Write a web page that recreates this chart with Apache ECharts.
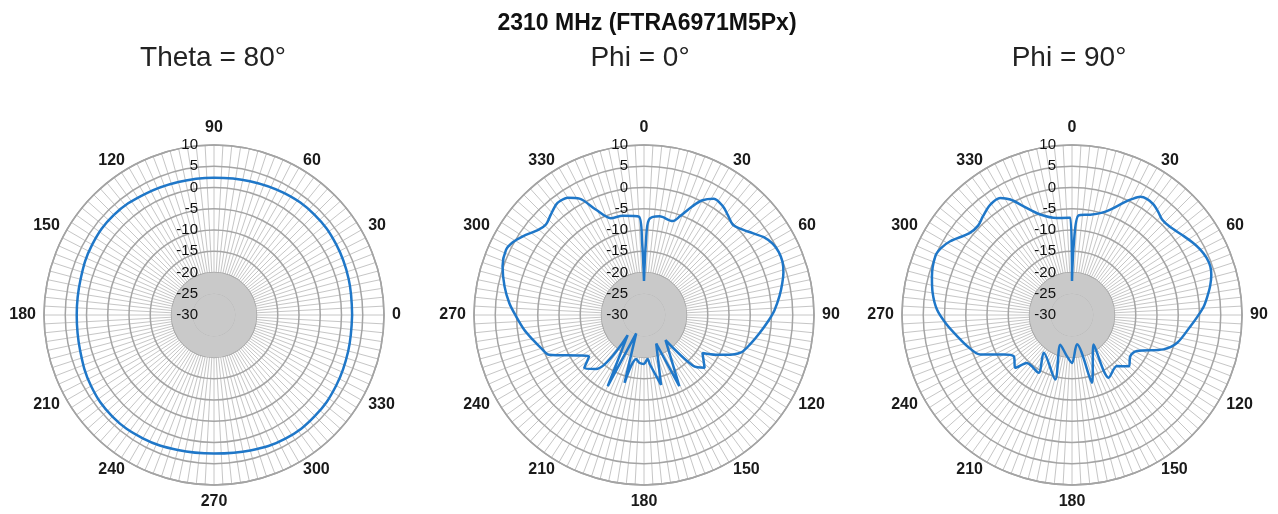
<!DOCTYPE html>
<html>
<head>
<meta charset="utf-8">
<script src="https://cdn.jsdelivr.net/npm/echarts@6/dist/echarts.min.js"></script>
<style>
html, body { margin: 0; padding: 0; background: #fff; }
#chart { width: 1278px; height: 514px; }
</style>
</head>
<body>
<div id="chart"></div>
<script>
// tick labels
var gainTicks = [-30, -25, -20, -15, -10, -5, 0, 5, 10];
var angleTicks = [0, 30, 60, 90, 120, 150, 180, 210, 240, 270, 300, 330, 360];

// Theta = 80 (0 deg on the right, counter clockwise)
var theta80Angles = [0, 15, 30, 45, 60, 75, 90, 105, 120, 135, 150, 165, 180, 195, 210, 225, 240, 255, 270, 285, 300, 315, 330, 345, 360];
var theta80Gain = [2.5, 2.8, 3.2, 3.4, 3.1, 2.6, 2.3, 2.4, 2.8, 3.3, 3.1, 2.5, 2.3, 2.6, 3.4, 3.8, 3.5, 2.9, 2.6, 3.0, 3.6, 3.6, 3.2, 2.7, 2.5];

// Phi = 0 (0 deg on top, clockwise), points in drawing order
var phi0Angles = [0, 1.5, 3, 9, 17, 20, 24, 27, 31, 36, 40, 44.5, 48, 53, 57, 61, 65, 69, 73, 77, 82, 88, 93, 99, 105, 111, 116, 119, 123, 131, 136, 139.5, 153.6, 156.8, 166.3, 173, 175.5, 180, 185.6, 190, 196, 203, 207, 219, 221.6, 228.4, 233, 238, 247.3, 252, 257.5, 263, 269.4, 275, 281.6, 289, 295.3, 299, 303, 309, 312.7, 317, 321.4, 324, 327, 331, 335.5, 341, 348, 357, 358.5, 360];
var phi0Gain = [-22, -13, -7.5, -6.5, -6.9, -5.3, -2.0, 0.3, 1.9, 1.6, 0.7, -0.2, 0.4, 2.0, 3.6, 4.6, 5.0, 4.9, 4.3, 3.4, 2.2, 0.7, -0.8, -2.5, -4.0, -5.5, -8.6, -10.7, -13.6, -11.1, -13.4, -22.2, -11.3, -22.7, -13.1, -18.2, -19.6, -18.5, -18.7, -19.5, -13.4, -25.3, -11.2, -23.9, -13.0, -11.2, -13.8, -12.0, -5.8, -4.6, -3.2, -1.6, 0.1, 1.8, 3.5, 5.2, 5.9, 5.3, 4.0, 1.9, 1.4, 2.2, 3.2, 3.3, 2.9, 1.3, -2.8, -5.9, -6.1, -6.8, -13, -22];

// Phi = 90 (0 deg on top, clockwise), points in drawing order
var phi90Angles = [0, 1.5, 3.8, 10.3, 16, 20, 24.7, 27.5, 30, 33, 36.5, 40, 43.3, 48, 54.8, 59, 63, 67, 70.6, 74, 78.2, 82, 86.2, 90.5, 95.4, 104.8, 110.6, 119, 125.2, 132, 138.7, 149.7, 143.7, 163.6, 170.4, 180, 186.9, 201.6, 194.5, 216.8, 210, 223.3, 227, 234.8, 240, 246.7, 253, 259.6, 266, 272.3, 279, 285.5, 293.3, 297, 301.2, 308.4, 313.6, 318, 323.5, 328.5, 331.9, 336, 342.5, 351.2, 359, 360];
var phi90Gain = [-22, -13, -6.5, -6.0, -5.0, -3.6, -0.9, 0.8, 2.1, 2.5, 2.3, 1.6, 0.9, 1.0, 2.2, 3.1, 3.9, 4.4, 4.5, 4.1, 3.2, 2.2, 1.1, -0.4, -2.0, -4.4, -7.0, -12.5, -13.2, -12.0, -14.0, -12.9, -21.4, -13.4, -23.0, -18.7, -20.2, -22.5, -14.3, -18.9, -14.3, -14.5, -11.8, -13.2, -11.4, -6.5, -4.4, -2.5, -0.3, 1.8, 3.2, 4.2, 5.0, 4.6, 3.5, 0.9, 0.5, 1.3, 2.3, 2.3, 0.8, -2.0, -5.2, -6.9, -7.1, -22];

var plotTitles = ['Theta = 80°', 'Phi = 0°', 'Phi = 90°'];
var mainTitle = '2310 MHz (FTRA6971M5Px)';

var myChart = echarts.init(document.getElementById('chart'));

var centers = [[214, 315], [644, 315], [1072, 315]];
var RADIUS = 170;
var FONT = '"Liberation Sans", Arial, sans-serif';

function pairs(angles, gains) {
	var out = [];
	for (var i = 0; i < angles.length; i++) {
		out.push([gains[i], angles[i]]);
	}
	return out;
}

var gMin = gainTicks[0], gMax = gainTicks[gainTicks.length - 1], gStep = gainTicks[1] - gainTicks[0];
var aMin = angleTicks[0], aMax = angleTicks[angleTicks.length - 1], aStep = angleTicks[1] - angleTicks[0];

// poles = the two labels that sit straight above / below the centre
function angleAxisFor(i, startAngle, clockwise, poles) {
	return {
		polarIndex: i,
		type: 'value',
		min: aMin, max: aMax, interval: aStep,
		startAngle: startAngle,
		clockwise: clockwise,
		axisLine: { lineStyle: { color: '#9c9c9c', width: 1.5 } },
		axisTick: { show: false },
		axisLabel: {
			margin: 8,
			color: '#1a1a1a',
			fontSize: 16,
			fontWeight: 'bold',
			fontFamily: FONT,
			formatter: function (v) {
				if (v === aMax) return '';
				return (poles.indexOf(v) >= 0 ? '{p|' : '{n|') + v + '}';
			},
			rich: {
				n: { lineHeight: 1, fontSize: 16, fontWeight: 'bold', color: '#1a1a1a', fontFamily: FONT },
				p: { lineHeight: 18, fontSize: 16, fontWeight: 'bold', color: '#1a1a1a', fontFamily: FONT }
			}
		},
		splitLine: { lineStyle: { color: '#c6c6c6', width: 1 } },
		minorTick: { show: false, splitNumber: 10 },
		minorSplitLine: { show: true, lineStyle: { color: '#c6c6c6', width: 1 } }
	};
}

function radiusAxisFor(i, showLabels, showGrid) {
	return {
		polarIndex: i,
		type: 'value',
		min: gMin, max: gMax, interval: gStep,
		axisLine: { show: false },
		axisTick: { show: false },
		axisLabel: {
			show: showLabels,
			margin: 16,
			color: '#111',
			fontSize: 15,
			fontFamily: FONT
		},
		splitLine: { show: showGrid, lineStyle: { color: '#a4a4a4', width: 1.5 } },
		splitArea: {
			show: showGrid,
			areaStyle: { color: ['#c9c9c9', '#c9c9c9', 'rgba(0,0,0,0)', 'rgba(0,0,0,0)', 'rgba(0,0,0,0)', 'rgba(0,0,0,0)', 'rgba(0,0,0,0)', 'rgba(0,0,0,0)'] }
		},
		z: 1
	};
}

var lineStyle = { color: '#1f77c8', width: 2.5 };

var option = {
	backgroundColor: '#fff',
	animation: false,
	title: [
		{ text: mainTitle, left: 642, top: 7, textAlign: 'center',
		  textStyle: { fontFamily: FONT, fontSize: 23, fontWeight: 'bold', color: '#111' } },
		{ text: plotTitles[0], left: 208, top: 39, textAlign: 'center',
		  textStyle: { fontFamily: FONT, fontSize: 28, fontWeight: 'normal', color: '#222' } },
		{ text: plotTitles[1], left: 635, top: 39, textAlign: 'center',
		  textStyle: { fontFamily: FONT, fontSize: 28, fontWeight: 'normal', color: '#222' } },
		{ text: plotTitles[2], left: 1064, top: 39, textAlign: 'center',
		  textStyle: { fontFamily: FONT, fontSize: 28, fontWeight: 'normal', color: '#222' } }
	],
	polar: [
		{ center: centers[0], radius: RADIUS },
		{ center: centers[1], radius: RADIUS },
		{ center: centers[2], radius: RADIUS },
		{ center: centers[0], radius: RADIUS }
	],
	angleAxis: [
		angleAxisFor(0, 0, false, [90, 270]),
		angleAxisFor(1, 90, true, [0, 180]),
		angleAxisFor(2, 90, true, [0, 180]),
		{ polarIndex: 3, type: 'value', min: aMin, max: aMax, startAngle: 90, show: false }
	],
	radiusAxis: [
		radiusAxisFor(0, false, true),
		radiusAxisFor(1, true, true),
		radiusAxisFor(2, true, true),
		radiusAxisFor(3, true, false)
	],
	series: [
		{ type: 'line', coordinateSystem: 'polar', polarIndex: 0, showSymbol: false, smooth: 0.4,
		  lineStyle: lineStyle, data: pairs(theta80Angles, theta80Gain) },
		{ type: 'line', coordinateSystem: 'polar', polarIndex: 1, showSymbol: false, smooth: 0.3,
		  lineStyle: lineStyle, data: pairs(phi0Angles, phi0Gain) },
		{ type: 'line', coordinateSystem: 'polar', polarIndex: 2, showSymbol: false, smooth: 0.3,
		  lineStyle: lineStyle, data: pairs(phi90Angles, phi90Gain) }
	]
};
myChart.setOption(option);
window.onresize = myChart.resize;
</script>
</body>
</html>
